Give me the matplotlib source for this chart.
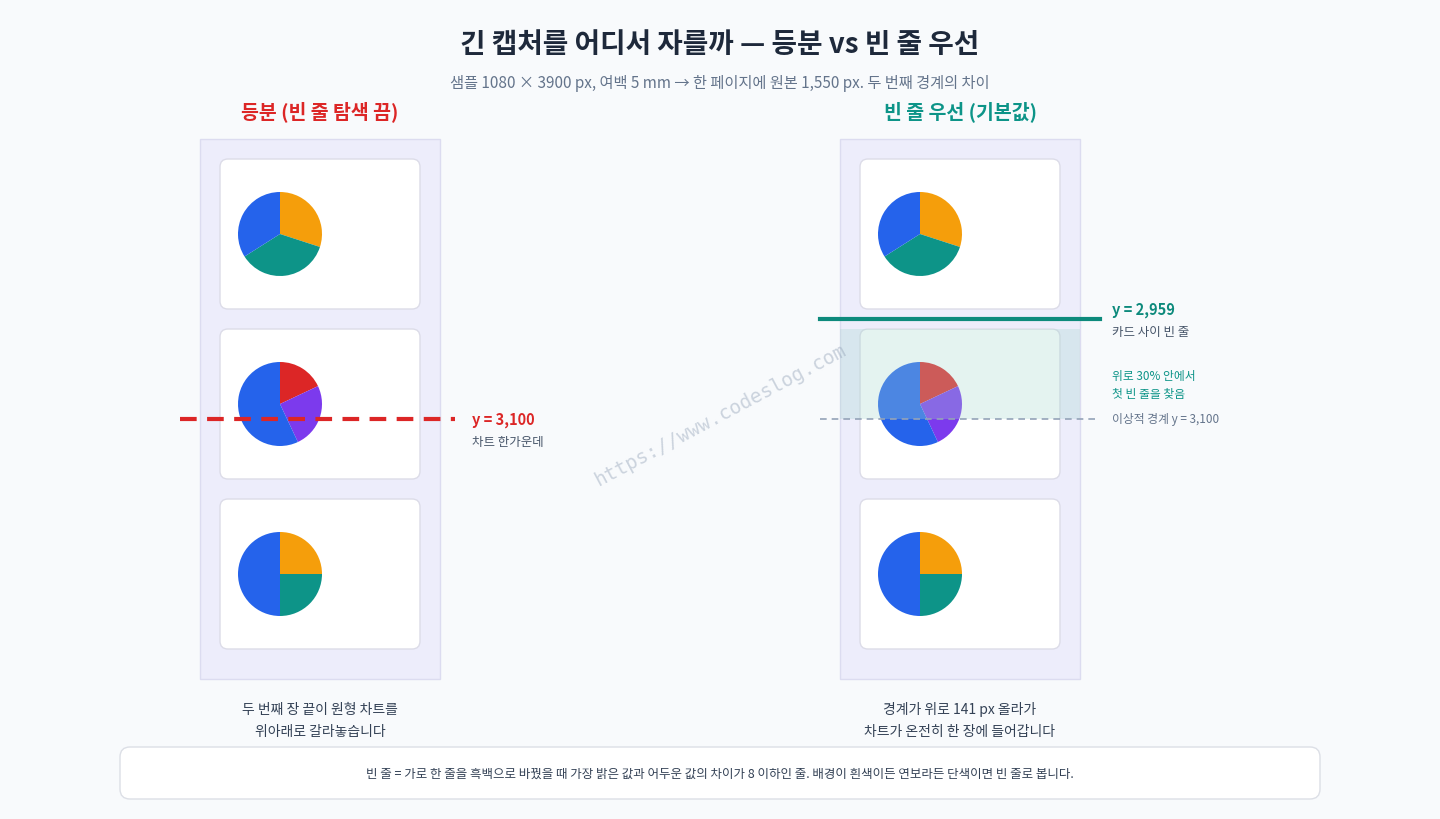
import matplotlib.pyplot as plt
from matplotlib.patches import FancyBboxPatch, Rectangle

plt.rcParams['font.family'] = ['Noto Sans CJK KR', 'DejaVu Sans']

# 파이 데이터 (카드 3장)
pie_values = [[30, 36, 34], [18, 25, 57], [25, 25, 50]]
pie_colors = [['#f59e0b', '#0d9488', '#2563eb'],
              ['#dc2626', '#7c3aed', '#2563eb'],
              ['#f59e0b', '#0d9488', '#2563eb']]
card_tops = [160, 330, 500]
panel_lefts = [200, 840]

fig = plt.figure(figsize=(14.4, 8.2), dpi=100)
fig.patch.set_facecolor('#f8fafc')
ax = fig.add_axes([0, 0, 1, 1])
ax.set_xlim(0, 1440)
ax.set_ylim(820, 0)
ax.set_aspect('equal')
ax.axis('off')

ax.text(720, 45, '긴 캡처를 어디서 자를까 — 등분 vs 빈 줄 우선', ha='center', va='center',
        fontsize=20, fontweight='bold', color='#1e293b')
ax.text(720, 83, '샘플 1080 × 3900 px, 여백 5 mm → 한 페이지에 원본 1,550 px. 두 번째 경계의 차이',
        ha='center', va='center', fontsize=11, color='#64748b')
ax.text(320, 112, '등분 (빈 줄 탐색 끔)', ha='center', va='center', fontsize=14,
        fontweight='bold', color='#dc2626')
ax.text(960, 112, '빈 줄 우선 (기본값)', ha='center', va='center', fontsize=14,
        fontweight='bold', color='#0d9488')

for px in panel_lefts:
    ax.add_patch(Rectangle((px, 140), 240, 540, facecolor='#ededfb', edgecolor='#dcdcf0', lw=1, zorder=1))
    for i, top in enumerate(card_tops):
        ax.add_patch(FancyBboxPatch((px + 20, top), 200, 150, boxstyle='round,pad=0,rounding_size=8',
                                    facecolor='white', edgecolor='#dcdce8', lw=1, zorder=2))
        ax.pie(pie_values[i], colors=pie_colors[i], center=(px + 80, top + 75), radius=42,
               startangle=-90, counterclock=True, frame=True,
               wedgeprops=dict(linewidth=0, zorder=3))

ax.set_xlim(0, 1440)
ax.set_ylim(820, 0)
ax.axis('off')

# 왼쪽: 등분 경계
ax.plot([180, 455], [420, 420], color='#dc2626', lw=3, ls=(0, (4, 2.5)), zorder=5)
ax.text(472, 420, 'y = 3,100', va='center', fontsize=10.5, fontweight='bold', color='#dc2626')
ax.text(472, 443, '차트 한가운데', va='center', fontsize=9, color='#475569')

# 오른쪽: 빈 줄 경계
ax.add_patch(Rectangle((840, 330), 240, 90, facecolor='#a7d8d0', alpha=0.3, lw=0, zorder=4))
ax.plot([820, 1100], [320, 320], color='#0d8a7c', lw=3, zorder=5)
ax.plot([820, 1100], [420, 420], color='#94a3b8', lw=1.2, ls=(0, (4, 3)), zorder=5)
ax.text(1112, 310, 'y = 2,959', va='center', fontsize=10.5, fontweight='bold', color='#0d8a7c')
ax.text(1112, 333, '카드 사이 빈 줄', va='center', fontsize=9, color='#475569')
ax.text(1112, 377, '위로 30% 안에서', va='center', fontsize=8.5, color='#0d9488')
ax.text(1112, 395, '첫 빈 줄을 찾음', va='center', fontsize=8.5, color='#0d9488')
ax.text(1112, 420, '이상적 경계 y = 3,100', va='center', fontsize=8.5, color='#64748b')

ax.text(720, 415, 'https://www.codeslog.com', ha='center', va='center', rotation=28,
        fontsize=14, color='#94a3b8', alpha=0.45, family='DejaVu Sans Mono', zorder=6)

ax.text(320, 710, '두 번째 장 끝이 원형 차트를', ha='center', va='center', fontsize=10, color='#334155')
ax.text(320, 732, '위아래로 갈라놓습니다', ha='center', va='center', fontsize=10, color='#334155')
ax.text(960, 710, '경계가 위로 141 px 올라가', ha='center', va='center', fontsize=10, color='#334155')
ax.text(960, 732, '차트가 온전히 한 장에 들어갑니다', ha='center', va='center', fontsize=10, color='#334155')

ax.add_patch(FancyBboxPatch((120, 748), 1200, 52, boxstyle='round,pad=0,rounding_size=10',
                            facecolor='white', edgecolor='#dcdfe6', lw=1, zorder=2))
ax.text(720, 774, '빈 줄 = 가로 한 줄을 흑백으로 바꿨을 때 가장 밝은 값과 어두운 값의 차이가 8 이하인 줄. '
        '배경이 흰색이든 연보라든 단색이면 빈 줄로 봅니다.', ha='center', va='center',
        fontsize=9, color='#334155', zorder=3)

fig.savefig('out.png', dpi=100, facecolor=fig.get_facecolor())
